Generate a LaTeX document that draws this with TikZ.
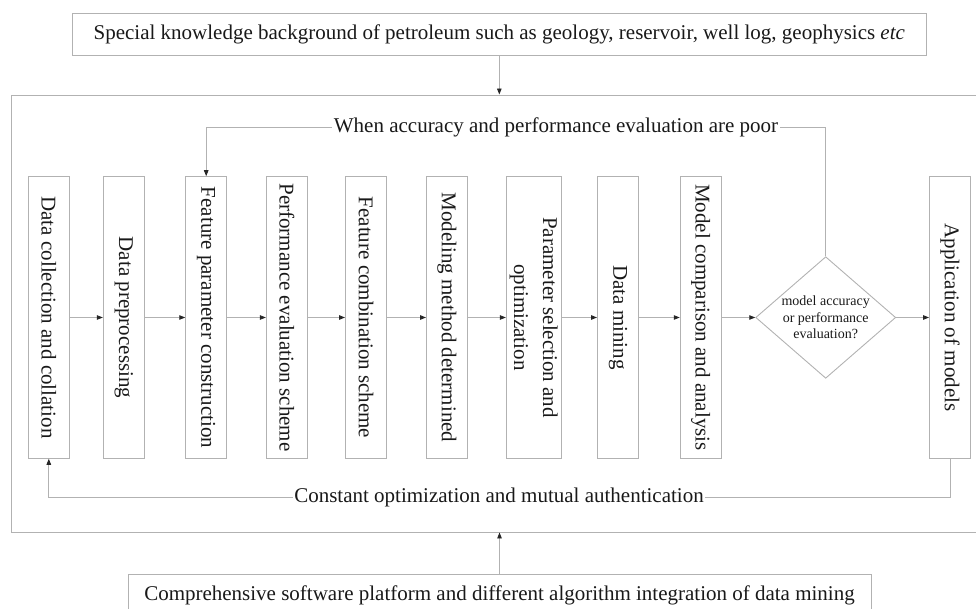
\documentclass[tikz,border=0pt]{standalone}
\usepackage{fontspec}
\setmainfont{Liberation Serif}
\usetikzlibrary{arrows.meta,shapes.geometric}
\definecolor{linegray}{RGB}{178,178,178}
\definecolor{txt}{RGB}{25,25,25}
\begin{document}
\begin{tikzpicture}[x=1pt,y=-1pt,
  every node/.style={text=txt},
  bigfont/.style={font=\fontsize{21}{25}\selectfont},
  box/.style={draw=linegray,line width=0.9pt,minimum width=41pt,minimum height=281.6pt,inner sep=0pt,bigfont},
  wide/.style={draw=linegray,line width=0.9pt,inner sep=0pt,minimum height=42pt,bigfont},
  conn/.style={draw=linegray,line width=0.9pt,-{Triangle[length=6pt,width=4.5pt,color=black!85]}},
  lbl/.style={fill=white,inner sep=1.5pt,bigfont}
]
\useasboundingbox (0,0) rectangle (976,609);

\node[wide,minimum width=854.7pt] (top) at (499.3,34) {Special knowledge background of petroleum such as geology, reservoir, well log, geophysics \textit{etc}};
\node[wide,minimum width=743pt] (bot) at (499.5,595) {Comprehensive software platform and different algorithm integration of data mining};
\node[draw=linegray,line width=0.9pt,minimum width=978.7pt,minimum height=437pt,inner sep=0pt] (frame) at (500.65,313.5) {};

\node[box] (b1) at (48.8,317.5) {\rotatebox{-90}{Data collection and collation}};
\node[box] (b2) at (123.8,317.5) {\rotatebox{-90}{Data preprocessing}};
\node[box] (b3) at (206.2,317.5) {\rotatebox{-90}{Feature parameter construction}};
\node[box] (b4) at (286.8,317.5) {\rotatebox{-90}{Performance evaluation scheme}};
\node[box] (b5) at (366,317.5) {\rotatebox{-90}{Feature combination scheme}};
\node[box] (b6) at (447,317.5) {\rotatebox{-90}{Modeling method determined}};
\node[box,minimum width=54.7pt] (b7) at (533.7,317.5) {\rotatebox{-90}{\begin{tabular}{@{}c@{}}Parameter selection and\\[4pt]optimization\end{tabular}}};
\node[box] (b8) at (618,317.5) {\rotatebox{-90}{Data mining}};
\node[box] (b9) at (700.7,317.5) {\rotatebox{-90}{Model comparison and analysis}};
\node[draw=linegray,line width=0.9pt,diamond,minimum width=140pt,minimum height=121.6pt,inner sep=0pt] (dia) at (825.7,317.5) {};
\node[align=center,font=\fontsize{14}{16.7}\selectfont,inner sep=0pt] (dtext) at (dia.center) {model accuracy\\or performance\\evaluation?};
\node[box] (b10) at (950,317.5) {\rotatebox{-90}{Application of models}};

\draw[conn] (top.south) -- (top.south |- frame.north);
\draw[conn] (bot.north) -- (bot.north |- frame.south);

\draw[conn] (b1) -- (b2);
\draw[conn] (b2) -- (b3);
\draw[conn] (b3) -- (b4);
\draw[conn] (b4) -- (b5);
\draw[conn] (b5) -- (b6);
\draw[conn] (b6) -- (b7);
\draw[conn] (b7) -- (b8);
\draw[conn] (b8) -- (b9);
\draw[conn] (b9) -- (dia);
\draw[conn] (dia) -- (b10);

\coordinate (ftop) at (0,127);
\coordinate (fbot) at (0,497.3);
\draw[conn] (dia.north) -- (dia.north |- ftop) -- (b3.north |- ftop) -- (b3.north);
\node[lbl] (fblabel) at (556,127) {When accuracy and performance evaluation are poor};
\draw[conn] (b10.south) -- (b10.south |- fbot) -- (b1.south |- fbot) -- (b1.south);
\node[lbl] (oplabel) at (499,497.3) {Constant optimization and mutual authentication};
\end{tikzpicture}
\end{document}
